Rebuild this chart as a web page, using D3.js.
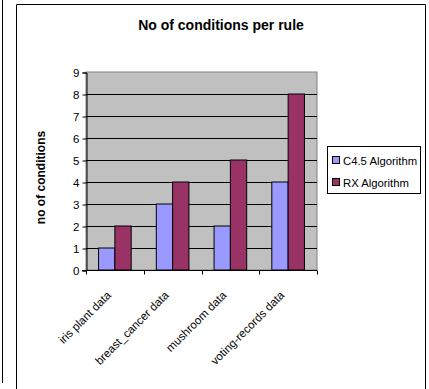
<!DOCTYPE html>
<html><head><meta charset="utf-8">
<script src="https://cdn.jsdelivr.net/npm/d3@7"></script>
<style>body{margin:0;background:#fff}svg{display:block}text{font-family:"Liberation Sans",Arial,sans-serif}</style>
</head><body>
<script>
const categories = ["iris plant data", "breast_cancer data", "mushroom data", "voting-records data"];
const seriesNames = ["C4.5 Algorithm", "RX Algorithm"];
const c45Values = [1, 3, 2, 4];
const rxValues = [2, 4, 5, 8];
const yTicks = [0, 1, 2, 3, 4, 5, 6, 7, 8, 9];
const colors = ["#9999FF", "#993366"];
const titleText = "No of conditions per rule";
const yLabel = "no of conditions";

const W = 429, H = 389;
const svg = d3.select("body").append("svg").attr("width", W).attr("height", H);

// outer frames
svg.append("line").attr("x1", 2.5).attr("x2", 2.5).attr("y1", 0).attr("y2", 383).attr("stroke", "#000");
svg.append("path").attr("d", "M16.5,389 V4.5 H425.5 V389").attr("fill", "none").attr("stroke", "#000");

const plot = {l: 86, r: 317, t: 72, b: 270};
const x = d3.scaleBand().domain(categories).range([plot.l, plot.r]);
const xs = d3.scaleBand().domain(seriesNames).range([0, x.bandwidth()]).paddingInner(0).paddingOuter(0.77);
const y = d3.scaleLinear().domain([0, 9]).range([plot.b, plot.t]);

svg.append("rect").attr("x", plot.l).attr("y", plot.t).attr("width", plot.r - plot.l).attr("height", plot.b - plot.t)
  .attr("fill", "#C0C0C0").attr("stroke", "#808080");

// gridlines
svg.append("g").selectAll("line").data(yTicks.filter(d => d > 0 && d < 9)).join("line")
  .attr("x1", plot.l).attr("x2", plot.r).attr("y1", d => Math.round(y(d)) + 0.5).attr("y2", d => Math.round(y(d)) + 0.5)
  .attr("stroke", "#000");

const data = categories.map((c, i) => ({cat: c, vals: [c45Values[i], rxValues[i]]}));
const groups = svg.append("g").selectAll("g").data(data).join("g").attr("transform", d => `translate(${x(d.cat)},0)`);
groups.selectAll("rect").data(d => d.vals.map((v, j) => ({s: seriesNames[j], v, j}))).join("rect")
  .attr("x", d => xs(d.s)).attr("width", xs.bandwidth())
  .attr("y", d => y(d.v)).attr("height", d => y(0) - y(d.v))
  .attr("fill", d => colors[d.j]).attr("stroke", "#000").attr("stroke-width", 1);

// y axis
const yAxis = d3.axisLeft(y).tickValues(yTicks).tickSize(4).tickPadding(3).tickFormat(d3.format("d"));
const ya = svg.append("g").attr("transform", `translate(${plot.l + 0.5},0.5)`).call(yAxis);
ya.select(".domain").attr("stroke", "#000");
ya.selectAll("text").attr("font-size", 11.5).attr("fill", "#000");

// x axis
const xa = svg.append("g").attr("transform", `translate(0,${plot.b + 0.5})`);
xa.append("line").attr("x1", plot.l - 4).attr("x2", plot.r).attr("stroke", "#000");
xa.selectAll("line.t").data(categories.concat(["end"])).join("line").attr("class", "t")
  .attr("x1", (d, i) => Math.round(plot.l + i * x.step()) + 0.5).attr("x2", (d, i) => Math.round(plot.l + i * x.step()) + 0.5)
  .attr("y1", 0).attr("y2", 4).attr("stroke", "#000");
xa.selectAll("text").data(categories).join("text")
  .attr("transform", d => `translate(${x(d) + x.bandwidth() / 2 - 3},${25.5}) rotate(-45)`)
  .attr("text-anchor", "end").attr("font-size", 11.5).attr("fill", "#000").text(d => d);

// title
svg.append("text").attr("x", 221).attr("y", 30).attr("text-anchor", "middle")
  .attr("font-size", 14).attr("font-weight", "bold").text(titleText);

// y label
svg.append("text").attr("transform", "translate(45,177.5) rotate(-90)").attr("text-anchor", "middle")
  .attr("font-size", 12).attr("font-weight", "bold").text(yLabel);

// legend
const lg = svg.append("g");
lg.append("rect").attr("x", 327.5).attr("y", 146.5).attr("width", 93).attr("height", 47).attr("fill", "#fff").attr("stroke", "#000");
const items = lg.selectAll("g").data(seriesNames).join("g").attr("transform", (d, i) => `translate(0,${i * 22})`);
items.append("rect").attr("x", 332.5).attr("y", 156.5).attr("width", 7).attr("height", 7)
  .attr("fill", (d, i) => colors[i]).attr("stroke", "#000");
items.append("text").attr("x", 343).attr("y", 164.5).attr("font-size", 11.3).text(d => d);
</script>
</body></html>
